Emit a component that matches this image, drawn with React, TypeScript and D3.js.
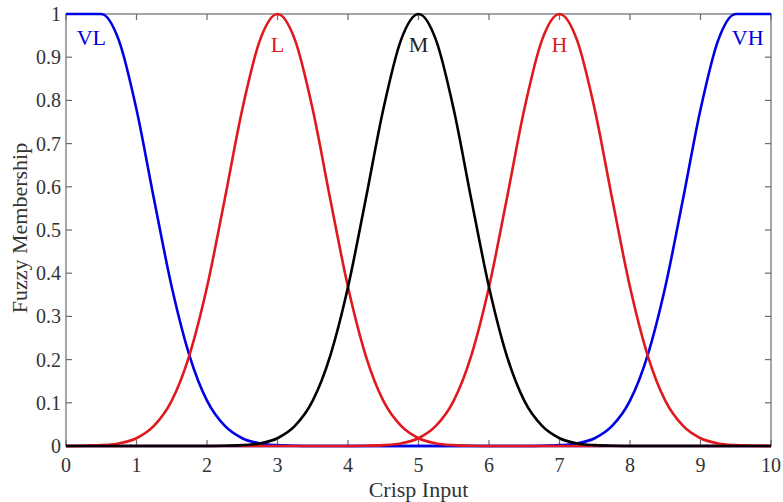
import React, { useRef, useEffect } from 'react';
import * as d3 from 'd3';

// crisp input sample points, 0..10 step 0.25
const xs = d3.range(41).map(i => i * 0.25);

const z8 = [0, 0, 0, 0, 0, 0, 0, 0];
const peak = [0.0001, 0.0005, 0.002, 0.006, 0.018, 0.047, 0.105, 0.21, 0.368, 0.57, 0.779, 0.939, 1,
  0.939, 0.779, 0.57, 0.368, 0.21, 0.105, 0.047, 0.018, 0.006, 0.002, 0.0005, 0.0001];

const VL = [1, 1, 1, 0.939, 0.779, 0.57, 0.368, 0.21, 0.105, 0.047, 0.018, 0.006, 0.002, 0.0005,
  ...z8, ...z8, ...z8, 0, 0, 0];
const L = [...peak, ...z8, ...z8];
const M = [...z8, ...peak, ...z8];
const H = [...z8, ...z8, ...peak];
const VH = [...z8, ...z8, ...z8, 0, 0, 0,
  0.0005, 0.002, 0.006, 0.018, 0.047, 0.105, 0.21, 0.368, 0.57, 0.779, 0.939, 1, 1, 1];

// drawing order: blue first, then red, black on top
const series = [
  { name: 'VL', values: VL, color: '#0000e6', lx: 0.36, ly: 0.945 },
  { name: 'VH', values: VH, color: '#0000e6', lx: 9.67, ly: 0.945 },
  { name: 'L', values: L, color: '#e0191e', lx: 3, ly: 0.93 },
  { name: 'H', values: H, color: '#e0191e', lx: 7, ly: 0.93 },
  { name: 'M', values: M, color: '#000000', lx: 5, ly: 0.93 },
];

const xTicks = d3.range(0, 11);
const yTicks = d3.range(0, 11).map(i => i / 10);

export default function App() {
  const svgRef = useRef<SVGSVGElement | null>(null);
  const width = 783;
  const height = 502;
  const margin = { top: 14, right: 12, bottom: 56, left: 66 };

  useEffect(() => {
    if (!svgRef.current) return;
    const root = d3.select(svgRef.current);
    root.selectAll('*').remove();

    const w = width - margin.left - margin.right;
    const h = height - margin.top - margin.bottom;
    const font = '"Liberation Serif", "Times New Roman", serif';
    const axisColor = '#6b6b6b';

    const x = d3.scaleLinear().domain([0, 10]).range([0, w]);
    const y = d3.scaleLinear().domain([0, 1]).range([h, 0]);

    const svg = root.append('g').attr('transform', `translate(${margin.left},${margin.top})`);

    // box
    svg.append('rect')
      .attr('width', w)
      .attr('height', h)
      .attr('fill', 'none')
      .attr('stroke', axisColor)
      .attr('stroke-width', 1.2);

    // inward ticks, all four sides
    const tl = 6;
    xTicks.forEach(t => {
      svg.append('line').attr('x1', x(t)).attr('x2', x(t)).attr('y1', h).attr('y2', h - tl)
        .attr('stroke', axisColor).attr('stroke-width', 1.2);
      svg.append('line').attr('x1', x(t)).attr('x2', x(t)).attr('y1', 0).attr('y2', tl)
        .attr('stroke', axisColor).attr('stroke-width', 1.2);
      svg.append('text')
        .attr('x', x(t)).attr('y', h + 26)
        .attr('text-anchor', 'middle')
        .attr('font-family', font).attr('font-size', 20).attr('fill', '#333')
        .text(t);
    });
    yTicks.forEach(t => {
      svg.append('line').attr('x1', 0).attr('x2', tl).attr('y1', y(t)).attr('y2', y(t))
        .attr('stroke', axisColor).attr('stroke-width', 1.2);
      svg.append('line').attr('x1', w).attr('x2', w - tl).attr('y1', y(t)).attr('y2', y(t))
        .attr('stroke', axisColor).attr('stroke-width', 1.2);
      svg.append('text')
        .attr('x', -5).attr('y', y(t)).attr('dy', '0.35em')
        .attr('text-anchor', 'end')
        .attr('font-family', font).attr('font-size', 20).attr('fill', '#333')
        .text(t === 0 || t === 1 ? String(t) : t.toFixed(1));
    });

    // curves
    const line = d3.line<number>()
      .x((_, i) => x(xs[i]))
      .y(d => y(d))
      .curve(d3.curveMonotoneX);

    series.forEach(s => {
      svg.append('path')
        .attr('d', line(s.values))
        .attr('fill', 'none')
        .attr('stroke', s.color)
        .attr('stroke-width', 2.6)
        .attr('stroke-linejoin', 'round');
    });

    // curve labels
    series.forEach(s => {
      svg.append('text')
        .attr('x', x(s.lx)).attr('y', y(s.ly)).attr('dy', '0.35em')
        .attr('text-anchor', 'middle')
        .attr('font-family', font).attr('font-size', 22)
        .attr('fill', s.name === 'M' ? '#222' : s.color)
        .text(s.name);
    });

    // axis labels
    svg.append('text')
      .attr('x', w / 2).attr('y', h + 51)
      .attr('text-anchor', 'middle')
      .attr('font-family', font).attr('font-size', 22).attr('fill', '#333')
      .text('Crisp Input');

    svg.append('text')
      .attr('transform', `translate(${-39},${h / 2 - 2}) rotate(-90)`)
      .attr('text-anchor', 'middle')
      .attr('font-family', font).attr('font-size', 22).attr('fill', '#333')
      .text('Fuzzy Membership');
  }, []);

  return <svg ref={svgRef} width={width} height={height} style={{ position: 'absolute', left: 0, top: 0 }}></svg>;
}
